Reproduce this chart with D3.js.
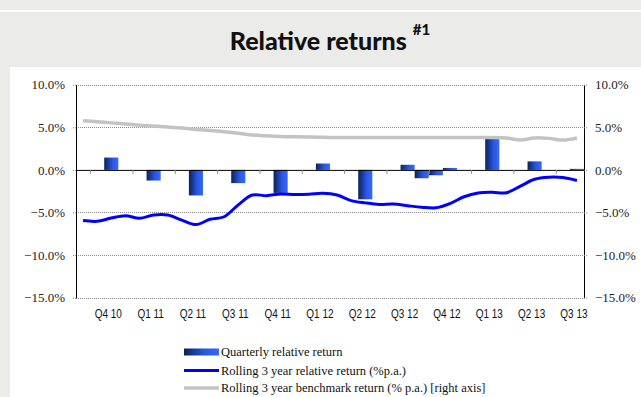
<!DOCTYPE html>
<html>
<head>
<meta charset="utf-8">
<script src="https://cdn.jsdelivr.net/npm/d3@7"></script>
<style>
    body { margin: 0; background: #ebebe9; }
    svg { display: block; }
    .axis-y .domain { stroke: #000; }
    .axis-y .tick line { stroke: #888; stroke-dasharray: 1,1; }
    .axis-x .domain { stroke: #000; }
    .axis-x .tick line { stroke: #888; }
    .grid line { stroke: #8a8a8a; stroke-dasharray: 1,1; shape-rendering: crispEdges; }
    .serif { font-family: "Liberation Serif", Tinos, "DejaVu Serif", serif; }
    .sans { font-family: "Liberation Sans", Arimo, "DejaVu Sans", sans-serif; }
</style>
</head>
<body>
<svg id="chart" width="641" height="397"></svg>
<script>
//Datos
const quarterLabels = ['Q4 10','Q1 11','Q2 11','Q3 11','Q4 11','Q1 12','Q2 12','Q3 12','Q4 12','Q1 13','Q2 13','Q3 13'];
const labelMonths = [2, 5, 8, 11, 14, 17, 20, 23, 26, 29, 32, 35];

//Retorno relativo trimestral (mes del eje)
const barMonths = [2, 5, 8, 11, 14, 17, 20, 23, 24, 25, 26, 29, 32, 35];
const barValues = [1.45, -1.25, -3.0, -1.55, -2.7, 0.75, -3.45, 0.6, -0.98, -0.63, 0.23, 3.9, 1.0, 0.12];

//Rolling 3 year relative return (%p.a.), mensual
const relValues = [-5.95, -6.03, -5.65, -5.37, -5.67, -5.3, -5.3, -5.9, -6.42, -5.8, -5.5, -4.1,
    -2.95, -3.02, -2.82, -2.88, -2.85, -2.75, -2.95, -3.6, -3.87, -4.05, -4.0, -4.2,
    -4.38, -4.45, -3.95, -3.15, -2.7, -2.63, -2.68, -1.9, -1.1, -0.86, -0.9, -1.25];

//Rolling 3 year benchmark return (% p.a.) [right axis]
const benchValues = [5.78, 5.65, 5.52, 5.4, 5.25, 5.15, 5.03, 4.92, 4.75, 4.62, 4.48, 4.3,
    4.1, 4.0, 3.92, 3.88, 3.85, 3.83, 3.8, 3.8, 3.8, 3.8, 3.8, 3.8,
    3.8, 3.8, 3.8, 3.8, 3.8, 3.8, 3.75, 3.5, 3.75, 3.7, 3.5, 3.75];

const yTicks = [10, 5, 0, -5, -10, -15];
const legendItems = ['Quarterly relative return', 'Rolling 3 year relative return (%p.a.)', 'Rolling 3 year benchmark return (% p.a.) [right axis]'];

//Colores
const COLOR_REL = '#0000ff',
COLOR_BENCH = '#c3c3c3';

let svg = d3.select('#chart');

//Fondo
svg.append('rect').attr('width', 641).attr('height', 397).attr('fill', '#ebebe9');
svg.append('rect').attr('x', 0).attr('y', 10).attr('width', 641).attr('height', 2).attr('fill', '#fff');
svg.append('rect').attr('x', 10).attr('y', 67).attr('width', 631).attr('height', 330).attr('fill', '#fff');

//Titulo
let title = svg.append('text')
    .attr('x', 330).attr('y', 50).attr('text-anchor', 'middle')
    .style('font-family', "Lato, 'Open Sans', sans-serif")
    .attr('font-weight', 900).attr('font-size', 25).attr('fill', '#111');
title.append('tspan').text('Relative returns ');
title.append('tspan').attr('dy', -15).attr('font-size', 15).text('#1');

//Gradiente barras
let grad = svg.append('defs').append('linearGradient').attr('id', 'barGrad')
    .attr('x1', 0).attr('x2', 1).attr('y1', 0).attr('y2', 0);
grad.append('stop').attr('offset', '0%').attr('stop-color', '#0c2253');
grad.append('stop').attr('offset', '60%').attr('stop-color', '#2a58e6');
grad.append('stop').attr('offset', '100%').attr('stop-color', '#3468ff');

let margin = {top: 84.7, bottom: 297.7, left: 76, right: 584};

let x = d3.scaleBand()
    .domain(d3.range(relValues.length))
    .range([margin.left, margin.right])
    .padding(0);

let xLin = d3.scaleLinear()
    .domain([0, relValues.length])
    .range([margin.left, margin.right]);

let y = d3.scaleLinear()
    .domain([-15, 10])
    .range([margin.bottom, margin.top]);

let pct = function(d) { return d3.format('.1f')(d) + '%'; };

//Rejilla
svg.append('g').attr('class', 'grid')
    .selectAll('line')
    .data(yTicks.filter(function(d) { return d != 0; }))
    .enter()
    .append('line')
    .attr('x1', margin.left).attr('x2', margin.right)
    .attr('y1', function(d) { return Math.round(y(d)) + 0.5; })
    .attr('y2', function(d) { return Math.round(y(d)) + 0.5; });

//Ejes Y
let styleY = function(g) {
    g.attr('font-family', null).attr('font-size', 13).attr('class', 'axis-y serif');
    g.selectAll('text').attr('fill', '#222');
};

svg.append('g')
    .attr('transform', 'translate(' + margin.left + ',0)')
    .call(d3.axisLeft(y).tickValues(yTicks).tickFormat(pct).tickSize(4).tickPadding(7).tickSizeOuter(0))
    .call(styleY);

svg.append('g')
    .attr('transform', 'translate(' + margin.right + ',0)')
    .call(d3.axisRight(y).tickValues(yTicks).tickFormat(pct).tickSize(4).tickPadding(7).tickSizeOuter(0))
    .call(styleY);

//Barras
svg.append('g')
    .selectAll('rect')
    .data(barMonths)
    .enter()
    .append('rect')
    .attr('x', function(d) { return x(d); })
    .attr('width', x.bandwidth())
    .attr('y', function(d, i) { return y(Math.max(0, barValues[i])); })
    .attr('height', function(d, i) { return Math.abs(y(barValues[i]) - y(0)); })
    .attr('fill', 'url(#barGrad)');

//Eje X en el cero
svg.append('g').attr('class', 'axis-x')
    .attr('transform', 'translate(0,' + y(0) + ')')
    .call(d3.axisBottom(xLin).tickValues(labelMonths.map(function(m) { return m - 1; }))
        .tickFormat('').tickSize(4).tickSizeOuter(0));

//Lineas
let line = function(values) {
    return d3.line()
        .x(function(d, i) { return x(i) + x.bandwidth() / 2; })
        .y(function(d) { return y(d); })
        .curve(d3.curveCatmullRom.alpha(0.5))(values);
};

svg.append('path').attr('d', line(benchValues))
    .attr('fill', 'none').attr('stroke', COLOR_BENCH).attr('stroke-width', 3.5);

svg.append('path').attr('d', line(relValues))
    .attr('fill', 'none').attr('stroke', COLOR_REL).attr('stroke-width', 3);

//Etiquetas del eje X
svg.append('g')
    .attr('class', 'sans').attr('font-size', 13.5).attr('fill', '#111')
    .selectAll('text')
    .data(quarterLabels)
    .enter()
    .append('text')
    .attr('text-anchor', 'middle')
    .attr('transform', function(d, i) {
        return 'translate(' + (x(labelMonths[i]) + x.bandwidth() / 2 - 3) + ',318) scale(0.74,1)';
    })
    .text(function(d) { return d; });

//Leyenda
let legend = svg.append('g')
    .attr('class', 'serif').attr('font-size', 12.5).attr('fill', '#111');
let rowY = [352, 370.5, 388];

legend.append('rect').attr('x', 184).attr('y', rowY[0] - 3.5).attr('width', 35).attr('height', 7).attr('fill', 'url(#barGrad)');
legend.append('line').attr('x1', 184).attr('x2', 219).attr('y1', rowY[1]).attr('y2', rowY[1]).attr('stroke', COLOR_REL).attr('stroke-width', 3);
legend.append('line').attr('x1', 184).attr('x2', 219).attr('y1', rowY[2]).attr('y2', rowY[2]).attr('stroke', COLOR_BENCH).attr('stroke-width', 3.5);

legend.selectAll('text')
    .data(legendItems)
    .enter()
    .append('text')
    .attr('x', 221)
    .attr('y', function(d, i) { return rowY[i] + 4; })
    .text(function(d) { return d; });
</script>
</body>
</html>
